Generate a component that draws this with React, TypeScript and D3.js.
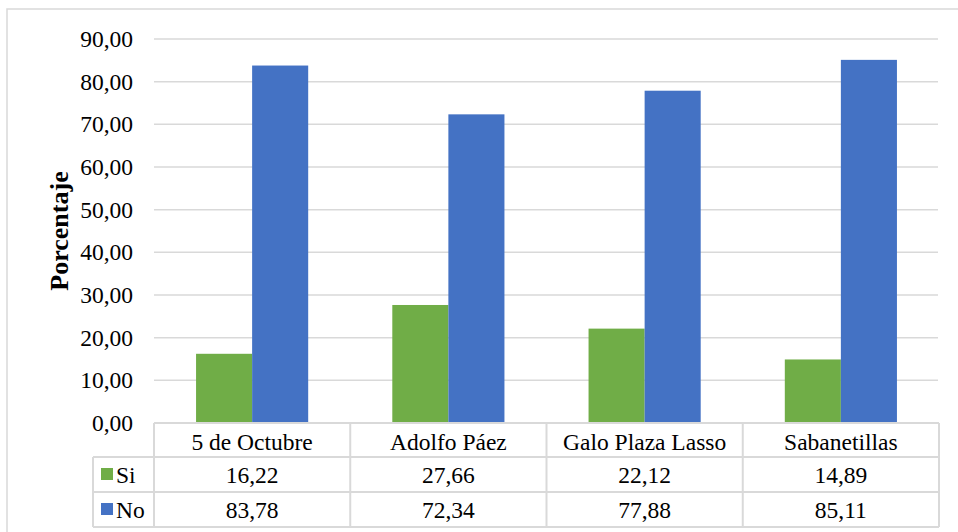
import React from "react";
import * as d3 from "d3";

// chart data
const categories = ["5 de Octubre", "Adolfo Páez", "Galo Plaza Lasso", "Sabanetillas"];
const seriesNames = ["Si", "No"];
const siValues = [16.22, 27.66, 22.12, 14.89];
const noValues = [83.78, 72.34, 77.88, 85.11];
const yTicks = [0, 10, 20, 30, 40, 50, 60, 70, 80, 90];

const colors = ["#70AD47", "#4472C4"];
const grid = "#D9D9D9";
const font = "Liberation Serif";

const fmt = (v: number) => v.toFixed(2).replace(".", ",");

export default function App() {
  const W = 958, H = 532;
  const left = 154, right = 939;
  const top = 39, bottom = 423;
  const rowH = [34, 35, 35]; // header, Si, No
  const legendLeft = 93;
  const fs = 23.5;

  const values = [siValues, noValues];

  const y = d3.scaleLinear().domain([0, 90]).range([bottom, top]);
  const x0 = d3.scaleBand<string>().domain(categories).range([left, right]);
  // Excel gap width 150%: band = 2 bars + 1.5 bar
  const barW = x0.bandwidth() / 3.5;
  const x1 = d3
    .scaleBand<string>()
    .domain(seriesNames)
    .range([0, barW * 2]);

  const rowTops = [bottom, bottom + rowH[0], bottom + rowH[0] + rowH[1]];
  const tableBottom = rowTops[2] + rowH[2];

  const txt = { fontFamily: font };

  return (
    <svg
      width={W}
      height={H}
      style={{ position: "absolute", left: 0, top: 0, background: "#fff", fontFamily: font }}
    >
      <rect x={7} y={9} width={W + 20} height={H + 20} fill="#fff" stroke={grid} strokeWidth={1.5} />

      {/* gridlines */}
      {yTicks.filter((t) => t > 0).map((t) => (
        <line key={t} x1={left} x2={right - 1} y1={y(t)} y2={y(t)} stroke={grid} strokeWidth={1.5} />
      ))}

      {/* y tick labels */}
      {yTicks.map((t) => (
        <text key={t} x={133} y={y(t) + 8} textAnchor="end" fontSize={fs} fill="#000" style={txt}>
          {fmt(t)}
        </text>
      ))}

      {/* y axis title */}
      <text
        transform={`translate(68,231) rotate(-90)`}
        textAnchor="middle"
        fontSize={26}
        fontWeight="bold"
        fill="#000"
        style={txt}
      >
        Porcentaje
      </text>

      {/* bars */}
      {categories.map((c, i) => {
        const gx = (x0(c) as number) + (x0.bandwidth() - barW * 2) / 2;
        return seriesNames.map((s, k) => (
          <rect
            key={c + s}
            x={gx + (x1(s) as number)}
            y={y(values[k][i])}
            width={x1.bandwidth()}
            height={bottom - y(values[k][i])}
            fill={colors[k]}
          />
        ));
      })}

      {/* data table */}
      <g stroke={grid} strokeWidth={2} fill="none">
        <line x1={left} x2={right} y1={bottom} y2={bottom} />
        {rowTops.slice(1).map((ry) => (
          <line key={ry} x1={legendLeft} x2={right} y1={ry} y2={ry} />
        ))}
        <line x1={legendLeft} x2={right} y1={tableBottom} y2={tableBottom} />
        <line x1={legendLeft} x2={legendLeft} y1={rowTops[1]} y2={tableBottom} />
        {categories.map((c) => (
          <line key={c} x1={x0(c) as number} x2={x0(c) as number} y1={bottom} y2={tableBottom} />
        ))}
        <line x1={right} x2={right} y1={bottom} y2={tableBottom} />
      </g>

      {categories.map((c) => (
        <text
          key={c}
          x={(x0(c) as number) + x0.bandwidth() / 2}
          y={rowTops[0] + 27}
          textAnchor="middle"
          fontSize={fs}
          fill="#000"
          style={txt}
        >
          {c}
        </text>
      ))}

      {seriesNames.map((s, k) => (
        <g key={s}>
          <rect x={101} y={rowTops[k + 1] + 11} width={12} height={12} fill={colors[k]} />
          <text x={116} y={rowTops[k + 1] + 26} fontSize={fs} fill="#000" style={txt}>
            {s}
          </text>
          {categories.map((c, i) => (
            <text
              key={c}
              x={(x0(c) as number) + x0.bandwidth() / 2}
              y={rowTops[k + 1] + 26}
              textAnchor="middle"
              fontSize={fs}
              fill="#000"
              style={txt}
            >
              {fmt(values[k][i])}
            </text>
          ))}
        </g>
      ))}
    </svg>
  );
}
